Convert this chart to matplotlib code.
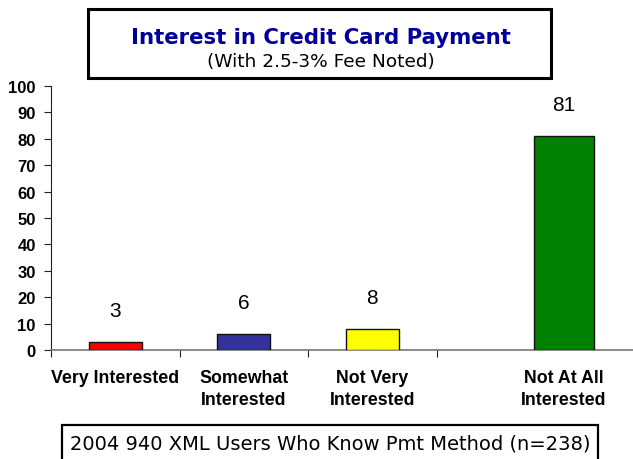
import matplotlib
matplotlib.use("Agg")
import matplotlib.pyplot as plt
import matplotlib.transforms as mtransforms
from matplotlib.patches import Rectangle

categories = ["Very Interested", "Somewhat\nInterested", "Not Very\nInterested", "Not At All\nInterested"]
values = [3, 6, 8, 81]
colors = ["#FF0000", "#333399", "#FFFF00", "#008000"]
yticks = [0, 10, 20, 30, 40, 50, 60, 70, 80, 90, 100]

# layout: bar centres (category units) and widths
positions = [0, 1, 2, 3.49]
widths = [0.41, 0.41, 0.41, 0.47]

W, H = 633, 460
fig = plt.figure(figsize=(W / 100, H / 100), dpi=100)

def fx(px):
    return px / W

def fy(py):
    return 1 - py / H

ax_left, ax_right, ax_top, ax_bot = 51, 633, 87, 351
ax = fig.add_axes([fx(ax_left), fy(ax_bot), fx(ax_right - ax_left), (ax_bot - ax_top) / H])
cat_w = 128.5
ax.set_xlim(-0.5, -0.5 + (ax_right - ax_left) / cat_w)
ax.set_ylim(0, 100)

ax.bar(positions, values, width=widths, color=colors, edgecolor="#111111", linewidth=1.0, zorder=3)
for xi, v in zip(positions, values):
    ax.text(xi, v + 12, str(v), ha="center", va="center", fontsize=15,
            family="Liberation Sans")

for s in ["top", "right"]:
    ax.spines[s].set_visible(False)
ax.spines["left"].set_color("#222222")
ax.spines["bottom"].set_color("#777777")
ax.spines["bottom"].set_linewidth(1.2)

ax.set_yticks(yticks)
ax.set_yticklabels([str(t) for t in yticks], fontsize=12, fontweight="bold", family="Liberation Sans")
ax.tick_params(axis="y", direction="out", length=5, color="#222222", pad=6)
ax.set_xticks([-0.5, 0.5, 1.5, 2.5])
ax.set_xticklabels([])
ax.tick_params(axis="x", direction="out", length=5, color="#222222")

offset = mtransforms.ScaledTranslation(0, -19 / 100, fig.dpi_scale_trans)
for xi, lab in zip(positions, categories):
    ax.text(xi, 0, lab, transform=ax.get_xaxis_transform() + offset, ha="center", va="top",
            fontsize=12.8, fontweight="bold", family="Liberation Sans", linespacing=1.38)

# title box
fig.patches.append(Rectangle((fx(88), fy(79)), fx(551 - 88), (79 - 10) / H,
                             transform=fig.transFigure, fill=False, edgecolor="black",
                             linewidth=2.2))
fig.text(fx(321), fy(38), "Interest in Credit Card Payment", ha="center", va="center",
         fontsize=15.3, fontweight="bold", color="#000099", family="DejaVu Sans")
fig.text(fx(321), fy(62), "(With 2.5-3% Fee Noted)", ha="center", va="center",
         fontsize=13.3, color="black", family="DejaVu Sans")

# bottom box
fig.patches.append(Rectangle((fx(62), fy(470)), fx(598 - 62), (470 - 426) / H,
                             transform=fig.transFigure, fill=False, edgecolor="black",
                             linewidth=1.6, clip_on=False))
fig.text(fx(330), fy(444), "2004 940 XML Users Who Know Pmt Method (n=238)", ha="center",
         va="center", fontsize=14, color="black", family="DejaVu Sans")

fig.savefig("out.png", dpi=100)
